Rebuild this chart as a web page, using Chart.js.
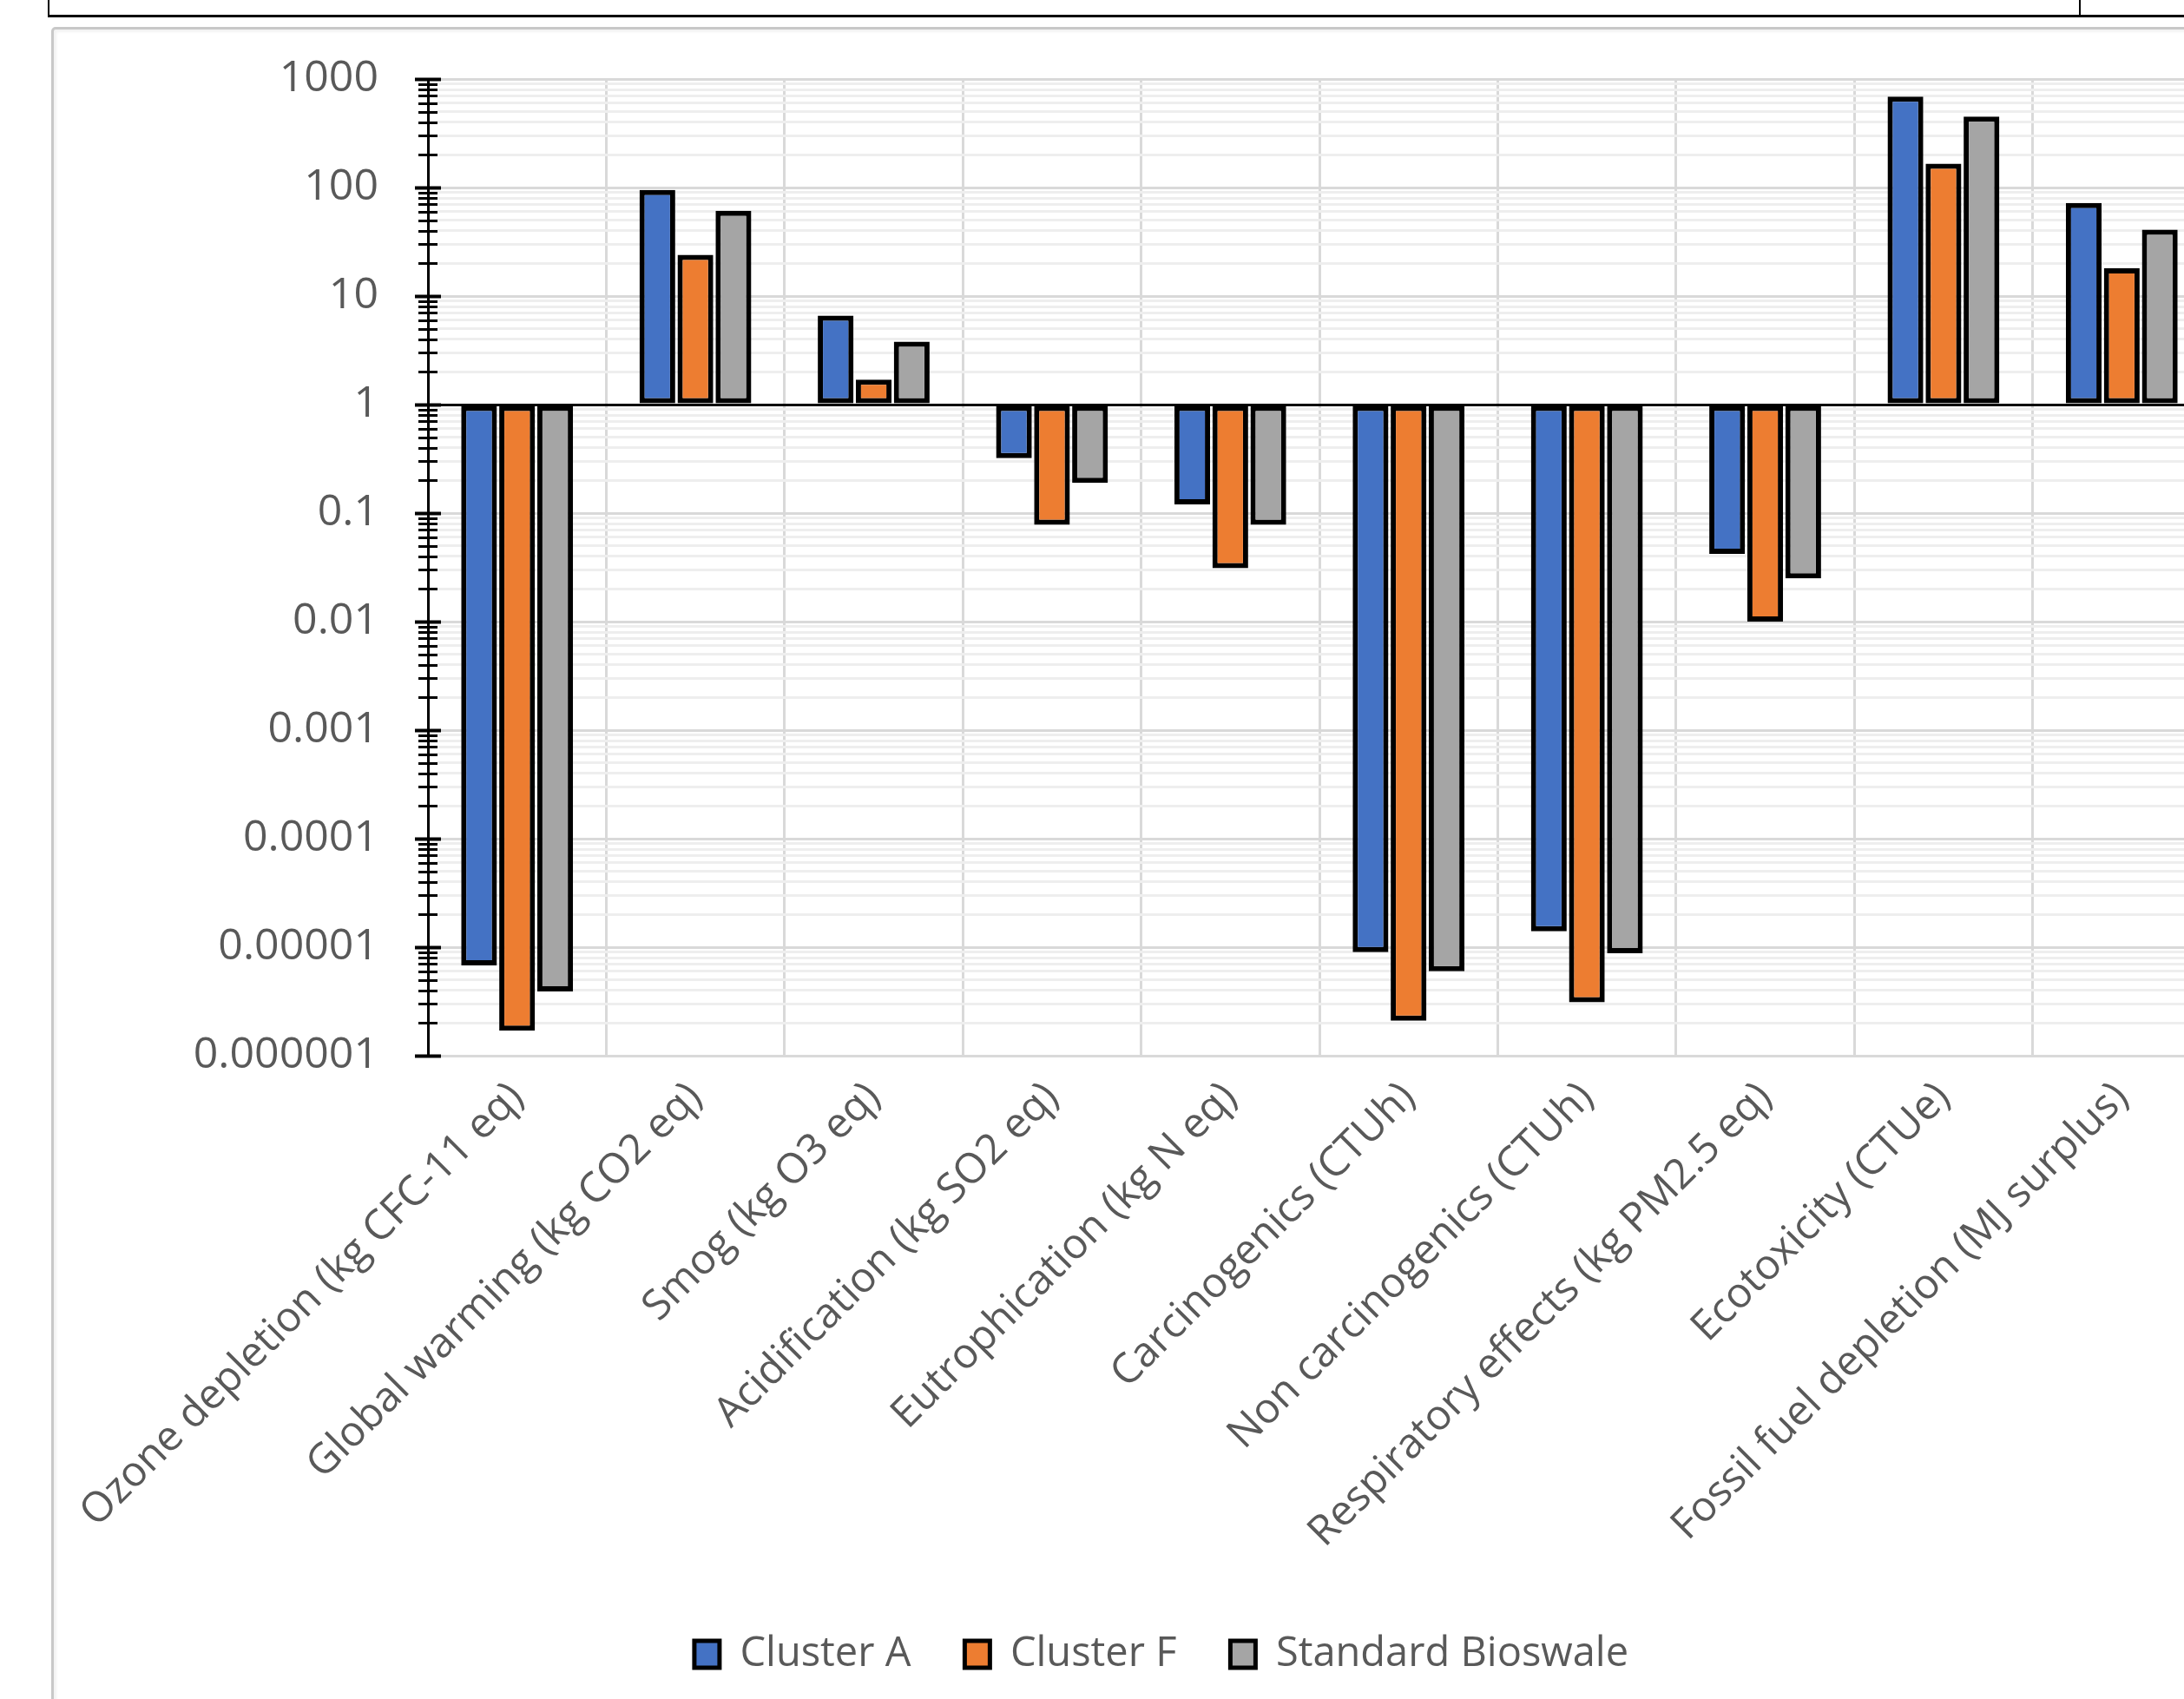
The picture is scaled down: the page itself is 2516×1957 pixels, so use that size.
<!DOCTYPE html>
<html>
<head>
<meta charset="utf-8">
<script src="https://cdn.jsdelivr.net/npm/chart.js@4.4.1/dist/chart.umd.min.js"></script>
<style>
  html, body { margin: 0; padding: 0; background: #ffffff; overflow: hidden; width: 2516px; height: 1957px; }
  #sheetRow { position: absolute; left: 55px; top: -10px; width: 2600px; height: 27px;
              border-left: 2px solid #000; border-bottom: 3px solid #000; }
  #sheetDivider { position: absolute; left: 2395px; top: 0; width: 2px; height: 19px; background: #000; }
  #frame { position: absolute; left: 59px; top: 31px; width: 2600px; height: 2000px;
           border: 3px solid #c8c8c8; border-radius: 5px;
           box-shadow: inset 3px 3px 3px rgba(0,0,0,0.05); }
  #chart { position: absolute; left: 3px; top: 3px; }
</style>
</head>
<body>
<div id="sheetRow"></div>
<div id="sheetDivider"></div>
<div id="frame"><canvas id="chart" width="2560" height="1923"></canvas></div>
<script>
// Impact categories and results per scenario
const categories = [
  'Ozone depletion (kg CFC-11 eq)',
  'Global warming (kg CO2 eq)',
  'Smog (kg O3 eq)',
  'Acidification (kg SO2 eq)',
  'Eutrophication (kg N eq)',
  'Carcinogenics (CTUh)',
  'Non carcinogenics (CTUh)',
  'Respiratory effects (kg PM2.5 eq)',
  'Ecotoxicity (CTUe)',
  'Fossil fuel depletion (MJ surplus)'
];
const clusterA         = [6.8e-6, 95, 6.6, 0.32, 0.12, 9.0e-6, 1.4e-5, 0.042, 690, 72];
const clusterF         = [1.7e-6, 24, 1.7, 0.078, 0.031, 2.1e-6, 3.1e-6, 0.010, 166, 18];
const standardBioswale = [3.9e-6, 61, 3.8, 0.19, 0.078, 6.0e-6, 8.8e-6, 0.025, 450, 41];

// Logarithmic value axis: labelled decades, unlabelled 2..9 minors
const decadeValues = [1e-6, 1e-5, 1e-4, 1e-3, 0.01, 0.1, 1, 10, 100, 1000];
const decadeLabels = ['0.000001', '0.00001', '0.0001', '0.001', '0.01', '0.1', '1', '10', '100', '1000'];
const minorSteps   = [2, 3, 4, 5, 6, 7, 8, 9];

const seriesNames  = ['Cluster A', 'Cluster F', 'Standard Bioswale'];
const seriesColors = ['#4472C4', '#ED7D31', '#A5A5A5'];
const seriesData   = [clusterA, clusterF, standardBioswale];

const isDecade = v => decadeValues.some(d => Math.abs(v / d - 1) < 1e-9);
const isOne = v => Math.abs(v - 1) < 1e-9;

// Tick marks that cross the value axis line
const crossTicks = {
  id: 'crossTicks',
  afterDraw(chart) {
    const y = chart.scales.y;
    const ctx = chart.ctx;
    const x0 = chart.chartArea.left;
    ctx.save();
    ctx.strokeStyle = '#000000';
    y.ticks.forEach(t => {
      const py = Math.round(y.getPixelForValue(t.value)) + 0.5;
      const major = isDecade(t.value);
      const len = major ? 15 : 11;
      ctx.lineWidth = major ? 4 : 3;
      ctx.beginPath();
      ctx.moveTo(x0 - len, py);
      ctx.lineTo(x0 + len, py);
      ctx.stroke();
    });
    ctx.restore();
  }
};

Chart.defaults.font.family = "'Open Sans', 'Noto Sans', sans-serif";
Chart.defaults.color = '#595959';

new Chart(document.getElementById('chart'), {
  type: 'bar',
  data: {
    labels: categories,
    datasets: seriesNames.map((name, i) => ({
      label: name,
      data: seriesData[i],
      base: 1,
      backgroundColor: seriesColors[i],
      borderColor: '#000000',
      borderWidth: 6,
      borderSkipped: false,
      categoryPercentage: 0.64,
      barPercentage: 0.94
    }))
  },
  options: {
    responsive: false,
    animation: false,
    devicePixelRatio: 1,
    layout: { padding: { left: 64, right: 78, top: 54, bottom: 21 } },
    plugins: {
      tooltip: { enabled: false },
      legend: {
        position: 'bottom',
        labels: {
          font: { size: 47 },
          color: '#595959',
          boxWidth: 29,
          boxHeight: 31,
          padding: 62,
          generateLabels(chart) {
            return Chart.defaults.plugins.legend.labels.generateLabels(chart)
              .map(item => Object.assign(item, { lineWidth: 5 }));
          }
        }
      }
    },
    scales: {
      x: {
        grid: { color: '#d9d9d9', lineWidth: 3, drawTicks: false, offset: true },
        border: { display: false },
        ticks: {
          autoSkip: false, minRotation: 45, maxRotation: 45,
          padding: 20, font: { size: 48 }, color: '#595959'
        },
        afterFit(scale) {
          scale.height = 604;
          scale.paddingLeft = 0;
          scale.paddingRight = 0;
        }
      },
      y: {
        type: 'logarithmic',
        min: 1e-6,
        max: 1000,
        afterBuildTicks(scale) {
          const ticks = [];
          decadeValues.forEach((d, i) => {
            ticks.push({ value: d });
            if (i < decadeValues.length - 1) {
              minorSteps.forEach(k => ticks.push({ value: d * k }));
            }
          });
          scale.ticks = ticks;
        },
        grid: {
          drawTicks: false,
          color: ctx => {
            const v = ctx.tick.value;
            if (isOne(v)) return '#000000';
            return isDecade(v) ? '#d9d9d9' : '#eeeeee';
          },
          lineWidth: 3
        },
        border: { display: true, color: '#000000', width: 3 },
        ticks: {
          autoSkip: false,
          padding: 57,
          font: { size: 50 },
          color: '#595959',
          callback(value) {
            const i = decadeValues.findIndex(d => Math.abs(value / d - 1) < 1e-9);
            return i >= 0 ? decadeLabels[i] : '';
          }
        },
        afterFit(scale) {
          scale.width = 364;
          scale.paddingTop = 0;
          scale.paddingBottom = 0;
        }
      }
    }
  },
  plugins: [crossTicks]
});
</script>
</body>
</html>
